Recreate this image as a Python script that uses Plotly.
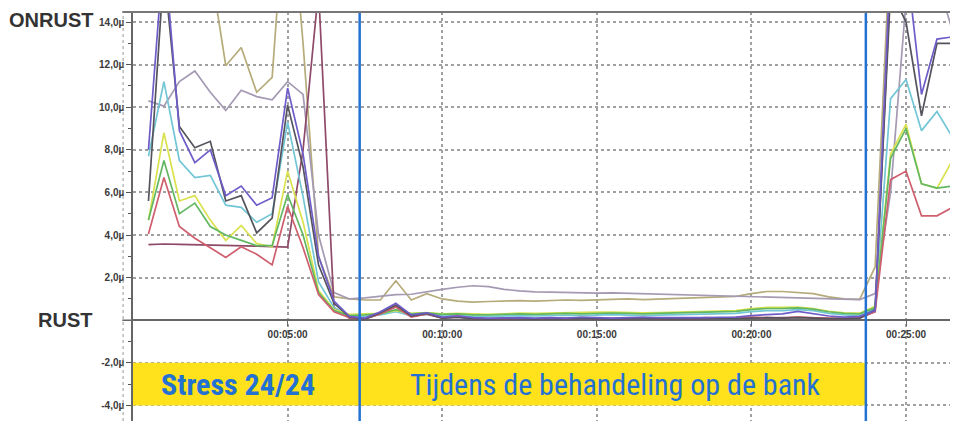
import plotly.graph_objects as go

# sample times (minutes)
minutes = [0.5, 1.0, 1.5, 2.0, 2.5, 3.0, 3.5, 4.0, 4.5, 5.0, 5.5, 6.0, 6.5, 7.0,
           7.5, 8.0, 8.5, 9.0, 9.5, 10.0, 10.5, 11.0, 11.5, 12.0, 12.5, 13.0, 13.5, 14.0,
           14.5, 15.0, 15.5, 16.0, 16.5, 17.0, 17.5, 18.0, 18.5, 19.0, 19.5, 20.0, 20.5,
           21.0, 21.5, 22.0, 22.5, 23.0, 23.5, 24.0,
           24.5, 25.0, 25.5, 26.0, 26.5, 27.0]

# stress phase (0.5 .. 7.0)
red_stress = [4.05, 6.7, 4.4, 3.85, 3.4, 2.95, 3.45, 3.1, 2.6, 5.35, 3.4, 1.2, 0.4, 0.12]
green_stress = [4.7, 7.5, 5.0, 5.5, 4.4, 4.0, 3.75, 3.5, 3.5, 5.9, 4.0, 1.3, 0.45, 0.22]
yellow_stress = [4.7, 8.8, 5.6, 5.85, 4.7, 3.75, 4.45, 3.6, 3.45, 7.0, 4.6, 1.4, 0.5, 0.28]
cyan_stress = [7.7, 11.2, 7.5, 6.7, 6.8, 5.4, 5.3, 4.6, 5.0, 9.3, 5.8, 1.8, 0.6, 0.2]
black_stress = [5.6, 16.5, 9.1, 8.1, 8.4, 5.6, 5.85, 4.1, 4.8, 10.1, 7.2, 2.6, 0.8, 0.15]
purple_stress = [8.0, 17.5, 8.9, 7.4, 8.0, 5.85, 6.3, 5.4, 5.75, 10.9, 7.8, 3.0, 0.9, 0.18]
gray_stress = [10.3, 10.05, 11.2, 11.7, 10.7, 9.85, 10.8, 10.5, 10.35, 11.2, 10.6, 4.0, 1.3, 1.0]
olive_stress = [19.0, 21.0, 20.0, 18.5, 16.6, 11.95, 12.8, 10.7, 11.4, 21.5, 13.0, 3.0, 1.1, 1.0]
maroon_stress = [3.55, 3.58, 3.56, 3.55, 3.52, 3.5, 3.5, 3.48, 3.46, 3.43, 8.0, 15.5, 0.6, 0.1]

# treatment phase (7.5 .. 24.0)
red_calm = [0.08, 0.3, 0.62, 0.15, 0.3, 0.12, 0.2, 0.08, 0.07, 0.1, 0.08, 0.06, 0.1, 0.08, 0.12, 0.1, 0.08,
            0.1, 0.12, 0.08, 0.1, 0.08, 0.12, 0.1, 0.12, 0.15, 0.12, 0.1, 0.15, 0.12, 0.08, 0.1, 0.15, 0.4]
black_calm = [0.05, 0.35, 0.72, 0.2, 0.32, 0.1, 0.15, 0.06, 0.05, 0.08, 0.06, 0.05, 0.08, 0.06, 0.1, 0.08, 0.05,
              0.08, 0.1, 0.06, 0.08, 0.06, 0.08, 0.1, 0.08, 0.1, 0.12, 0.1, 0.12, 0.1, 0.06, 0.08, 0.1, 0.5]
purple_calm = [0.1, 0.4, 0.8, 0.25, 0.35, 0.15, 0.2, 0.12, 0.1, 0.12, 0.12, 0.1, 0.12, 0.1, 0.14, 0.12, 0.1,
               0.12, 0.14, 0.12, 0.12, 0.1, 0.12, 0.14, 0.15, 0.22, 0.25, 0.3, 0.42, 0.3, 0.2, 0.15, 0.18, 0.45]
maroon_calm = [0.06, 0.3, 0.65, 0.18, 0.28, 0.1, 0.15, 0.07, 0.06, 0.08, 0.07, 0.06, 0.08, 0.07, 0.1, 0.08, 0.07,
               0.08, 0.1, 0.07, 0.08, 0.07, 0.09, 0.1, 0.1, 0.12, 0.12, 0.12, 0.14, 0.12, 0.08, 0.08, 0.1, 0.4]
green_calm = [0.25, 0.3, 0.5, 0.3, 0.35, 0.28, 0.3, 0.25, 0.25, 0.28, 0.3, 0.28, 0.3, 0.32, 0.3, 0.32, 0.34,
              0.32, 0.3, 0.32, 0.34, 0.35, 0.36, 0.38, 0.42, 0.5, 0.55, 0.55, 0.58, 0.52, 0.4, 0.32, 0.3, 0.6]
yellow_calm = [0.3, 0.32, 0.45, 0.32, 0.36, 0.3, 0.32, 0.3, 0.28, 0.3, 0.33, 0.32, 0.34, 0.36, 0.35, 0.38, 0.38,
               0.36, 0.35, 0.36, 0.38, 0.38, 0.4, 0.42, 0.45, 0.55, 0.6, 0.6, 0.62, 0.55, 0.42, 0.35, 0.33, 0.65]
cyan_calm = [0.18, 0.25, 0.4, 0.22, 0.28, 0.2, 0.22, 0.18, 0.18, 0.2, 0.22, 0.2, 0.22, 0.24, 0.22, 0.25, 0.26,
             0.24, 0.22, 0.24, 0.26, 0.26, 0.28, 0.3, 0.32, 0.4, 0.45, 0.45, 0.5, 0.45, 0.32, 0.25, 0.22, 0.55]
olive_calm = [0.95, 0.95, 1.85, 0.95, 1.25, 1.0, 0.9, 0.85, 0.88, 0.9, 0.92, 0.9, 0.92, 0.95, 0.93, 0.95, 0.98,
              1.0, 0.97, 1.0, 1.03, 1.05, 1.08, 1.1, 1.12, 1.25, 1.35, 1.35, 1.3, 1.25, 1.1, 1.0, 0.98, 2.5]
gray_calm = [1.05, 1.12, 1.2, 1.22, 1.35, 1.45, 1.55, 1.62, 1.58, 1.45, 1.38, 1.33, 1.32, 1.3, 1.28, 1.27, 1.28,
             1.26, 1.24, 1.22, 1.2, 1.18, 1.15, 1.12, 1.12, 1.1, 1.08, 1.06, 1.04, 1.02, 1.0, 0.98, 0.97, 1.25]

# after treatment (24.5 .. 27.0)
red_after = [6.6, 7.0, 4.9, 4.9, 5.3, 5.6]
green_after = [7.6, 9.0, 6.4, 6.2, 6.3, 6.3]
yellow_after = [7.8, 9.2, 6.4, 6.2, 7.5, 8.0]
cyan_after = [10.4, 11.3, 8.9, 9.8, 8.6, 8.2]
black_after = [15.5, 14.0, 9.6, 13.0, 13.0, 13.0]
purple_after = [17.0, 17.0, 10.6, 13.2, 13.3, 13.3]
gray_after = [6.0, 15.0, 18.0, 16.0, 13.6, 13.2]
olive_after = [18.0, 20.0, 21.0, 20.0, 19.0, 19.0]
maroon_after = [16.0, 18.0, 19.0, 18.0, 17.0, 17.0]

x_tick_vals = [5, 10, 15, 20, 25]
x_tick_text = ["00:05:00", "00:10:00", "00:15:00", "00:20:00", "00:25:00"]
y_tick_vals = [-4, -2, 2, 4, 6, 8, 10, 12, 14]
y_tick_text = ["-4,0\u00b5", "-2,0\u00b5", "2,0\u00b5", "4,0\u00b5", "6,0\u00b5", "8,0\u00b5",
               "10,0\u00b5", "12,0\u00b5", "14,0\u00b5"]

phase_bounds = [0, 7.33, 23.7]
phase_labels = ["Stress 24/24", "Tijdens de behandeling op de bank"]
phase_label_x = [3.4, 15.6]

series = [
    ("olive", olive_stress + olive_calm + olive_after, "#b6ab7a"),
    ("gray", gray_stress + gray_calm + gray_after, "#a59ab3"),
    ("maroon", maroon_stress + maroon_calm + maroon_after, "#8e4a68"),
    ("cyan", cyan_stress + cyan_calm + cyan_after, "#72c6d6"),
    ("yellow", yellow_stress + yellow_calm + yellow_after, "#d9e24e"),
    ("green", green_stress + green_calm + green_after, "#62b862"),
    ("red", red_stress + red_calm + red_after, "#cf5f6e"),
    ("black", black_stress + black_calm + black_after, "#55535c"),
    ("purple", purple_stress + purple_calm + purple_after, "#6f5cc9"),
]

YMIN, YMAX = -4.73, 14.47
XMIN, XMAX = 0, 26.68
PLOT_W = 825  # plot area width in px

fig = go.Figure()
for name, vals, col in series:
    fig.add_trace(go.Scatter(x=minutes, y=vals, mode="lines", name=name,
                             line=dict(color=col, width=1.7), showlegend=False,
                             hoverinfo="skip"))

blue = "#2371d3"
yellow = "#ffe11c"
fig.add_shape(type="rect", xref="x", yref="y", x0=phase_bounds[0], x1=phase_bounds[1],
              y0=-4.0, y1=-2.0, fillcolor=yellow, line=dict(width=0), layer="above")
fig.add_shape(type="rect", xref="x", yref="y", x0=phase_bounds[1], x1=phase_bounds[2],
              y0=-4.0, y1=-2.0, fillcolor=yellow, line=dict(width=0), layer="above")
for xb in phase_bounds[1:]:
    fig.add_shape(type="line", xref="x", yref="paper", x0=xb, x1=xb, y0=0, y1=1,
                  line=dict(color=blue, width=2.5), layer="above")
fig.add_shape(type="line", xref="paper", yref="paper", x0=-0.013, x1=1, y0=1, y1=1,
              line=dict(color="#777777", width=2), layer="above")
fig.add_shape(type="line", xref="paper", yref="paper", x0=-0.012, x1=-0.012, y0=0, y1=1,
              line=dict(color="#9a9a9a", width=1, dash="dot"), layer="above")
fig.add_shape(type="line", xref="paper", yref="y", x0=-0.013, x1=0, y0=0, y1=0,
              line=dict(color="#666666", width=1.5), layer="above")

label_font = "Liberation Sans Narrow, Roboto Condensed, DejaVu Sans Condensed, sans-serif"
fig.add_annotation(x=phase_label_x[0], y=-3.0, xref="x", yref="y",
                   text=phase_labels[0], showarrow=False,
                   font=dict(family=label_font, size=30, color=blue, weight="bold"))
fig.add_annotation(x=phase_label_x[1], y=-3.0, xref="x", yref="y",
                   text=phase_labels[1], showarrow=False,
                   font=dict(family=label_font, size=30, color=blue))
fig.add_annotation(x=(95 - 133) / PLOT_W, y=14.1, xref="paper", yref="y", xanchor="right",
                   text="ONRUST", showarrow=False,
                   font=dict(family="Liberation Sans, Arial, sans-serif", size=20, color="#333333", weight="bold"))
fig.add_annotation(x=(94 - 133) / PLOT_W, y=0.0, xref="paper", yref="y", xanchor="right",
                   text="RUST", showarrow=False,
                   font=dict(family="Liberation Sans, Arial, sans-serif", size=20, color="#333333", weight="bold"))

tickfont = dict(family="Liberation Sans, Arial, sans-serif", size=10, color="#3a3a3a", weight="bold")
# the page body has an 8px margin, so the figure is 8px smaller and margins are reduced by 8
fig.update_layout(
    width=950, height=413,
    margin=dict(l=125, r=0, t=4, b=0),
    plot_bgcolor="white", paper_bgcolor="white",
    xaxis=dict(range=[XMIN, XMAX], tickvals=x_tick_vals, ticktext=x_tick_text,
               showgrid=True, gridcolor="#a0a0a0", griddash="dot", gridwidth=1.5,
               anchor="free", position=(0 - YMIN) / (YMAX - YMIN),
               showline=False, ticks="outside", ticklen=5, tickcolor="#666",
               tickfont=tickfont, zeroline=False),
    yaxis=dict(range=[YMIN, YMAX], tickvals=y_tick_vals, ticktext=y_tick_text,
               showgrid=True, gridcolor="#a0a0a0", griddash="dot", gridwidth=1.5,
               zeroline=True, zerolinecolor="#666666", zerolinewidth=1.5,
               showline=True, linecolor="#666666", linewidth=1.5,
               ticks="outside", ticklen=5, tickcolor="#555",
               minor=dict(dtick=1, tick0=0, ticks="outside", ticklen=3, tickcolor="#555", showgrid=False),
               tickfont=tickfont),
)

fig.write_html("out.html")
